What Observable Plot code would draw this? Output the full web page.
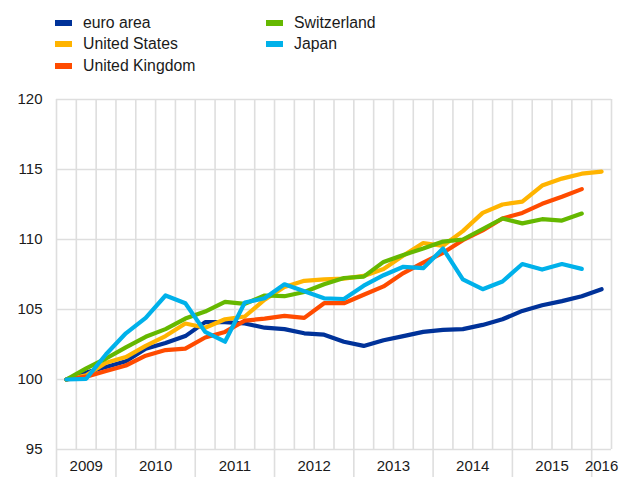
<!DOCTYPE html>
<html>
<head>
<meta charset="utf-8">
<script src="https://cdn.jsdelivr.net/npm/d3@7"></script>
<script src="https://cdn.jsdelivr.net/npm/@observablehq/plot@0.6"></script>
<style>
  body { margin: 0; background: #fff; font-family: "Liberation Sans", Arial, sans-serif; }
  #legend { position: relative; width: 630px; height: 80px; }
  .item { position: absolute; height: 20px; display: flex; align-items: center; font-size: 15.8px; color: #1a1a1a; white-space: nowrap; }
  .sw { width: 17px; height: 6px; margin-right: 11px; flex: none; }
  #chart svg { display: block; }
</style>
</head>
<body>
<div id="legend"></div>
<div id="chart"></div>
<script>
const quarters = [
  "2009Q2","2009Q3","2009Q4",
  "2010Q1","2010Q2","2010Q3","2010Q4",
  "2011Q1","2011Q2","2011Q3","2011Q4",
  "2012Q1","2012Q2","2012Q3","2012Q4",
  "2013Q1","2013Q2","2013Q3","2013Q4",
  "2014Q1","2014Q2","2014Q3","2014Q4",
  "2015Q1","2015Q2","2015Q3","2015Q4",
  "2016Q1"
];
const seriesNames = ["euro area", "United States", "United Kingdom", "Switzerland", "Japan"];
const seriesColors = ["#003299", "#FFB400", "#FF4B00", "#65B800", "#00B1EA"];

const euroArea = [100, 100.5, 100.9, 101.3, 102.2, 102.6, 103.1, 104.1, 104.1, 104.0, 103.7, 103.6, 103.3, 103.2, 102.7, 102.4, 102.8, 103.1, 103.4, 103.55, 103.6, 103.9, 104.3, 104.9, 105.3, 105.6, 105.95, 106.45];
const unitedStates = [100, 100.3, 101.2, 101.6, 102.4, 103.1, 104.0, 103.7, 104.3, 104.5, 105.7, 106.6, 107.05, 107.15, 107.2, 107.4, 107.9, 108.85, 109.75, 109.55, 110.6, 111.9, 112.5, 112.7, 113.85, 114.35, 114.7, 114.85];
const unitedKingdom = [100, 100.2, 100.6, 101.0, 101.7, 102.1, 102.2, 103.0, 103.4, 104.2, 104.35, 104.55, 104.4, 105.45, 105.45, 106.05, 106.65, 107.6, 108.35, 109.05, 109.95, 110.65, 111.5, 111.9, 112.55, 113.05, 113.6];
const switzerland = [100, 100.8, 101.5, 102.3, 103.05, 103.6, 104.35, 104.85, 105.55, 105.4, 106.0, 105.95, 106.25, 106.8, 107.25, 107.35, 108.4, 108.9, 109.35, 109.85, 110.0, 110.75, 111.5, 111.15, 111.45, 111.35, 111.85];
const japan = [100, 100.05, 101.8, 103.3, 104.4, 106.0, 105.45, 103.4, 102.7, 105.5, 105.8, 106.8, 106.3, 105.8, 105.75, 106.7, 107.45, 108.05, 107.95, 109.35, 107.15, 106.45, 107.0, 108.25, 107.85, 108.25, 107.9];

const yTicks = [95, 100, 105, 110, 115, 120];

// legend (HTML, above the SVG)
const legendPos = [[55, 13], [55, 34], [55, 56], [266, 13], [266, 34]];
const legend = document.getElementById("legend");
seriesNames.forEach((name, k) => {
  const it = document.createElement("div");
  it.className = "item";
  it.style.left = legendPos[k][0] + "px";
  it.style.top = legendPos[k][1] + "px";
  const sw = document.createElement("span");
  sw.className = "sw";
  sw.style.background = seriesColors[k];
  it.appendChild(sw);
  it.appendChild(document.createTextNode(name));
  legend.appendChild(it);
});

// tidy table
const allValues = [euroArea, unitedStates, unitedKingdom, switzerland, japan];
const rows = [];
allValues.forEach((vals, k) => vals.forEach((v, i) => rows.push({name: seriesNames[k], i, v})));

// year groups
const qIdx = quarters.map((q, i) => ({year: q.slice(0, 4), i}));
const yearCenters = d3.rollups(qIdx, g => d3.mean(g, d => d.i), d => d.year).map(([year, c]) => ({year, c}));
const yearStarts = d3.rollups(qIdx, g => d3.min(g, d => d.i) - 0.5, d => d.year).map(d => d[1]);
const bandEdges = d3.range(-0.5, quarters.length, 1);

const grid = "#dedede";
const chart = Plot.plot({
  width: 630,
  height: 397,
  marginLeft: 56,
  marginRight: 19,
  marginTop: 19,
  marginBottom: 28,
  x: {type: "linear", domain: [-0.5, quarters.length - 0.5], axis: null},
  y: {domain: [95, 120], axis: null},
  color: {domain: seriesNames, range: seriesColors},
  style: {fontFamily: "'Liberation Sans', Arial, sans-serif", fontSize: "15px", color: "#1a1a1a", background: "transparent"},
  marks: [
    Plot.ruleX(bandEdges, {stroke: grid, strokeWidth: 1.6}),
    Plot.ruleY(yTicks, {stroke: grid, strokeWidth: 1.6}),
    Plot.ruleX(yearStarts, {y1: 95, y2: 93, stroke: grid, strokeWidth: 1.6}),
    Plot.line(rows, {x: "i", y: "v", z: "name", stroke: "name", strokeWidth: 4.2, strokeLinecap: "round", strokeLinejoin: "round"}),
    Plot.axisY(yTicks, {tickSize: 0, tickPadding: 14, label: null, fontSize: 15}),
    Plot.text(yearCenters, {x: "c", text: "year", frameAnchor: "bottom", dy: 21, fontSize: 15, fill: "#1a1a1a"})
  ]
});
document.getElementById("chart").appendChild(chart);
</script>
</body>
</html>
